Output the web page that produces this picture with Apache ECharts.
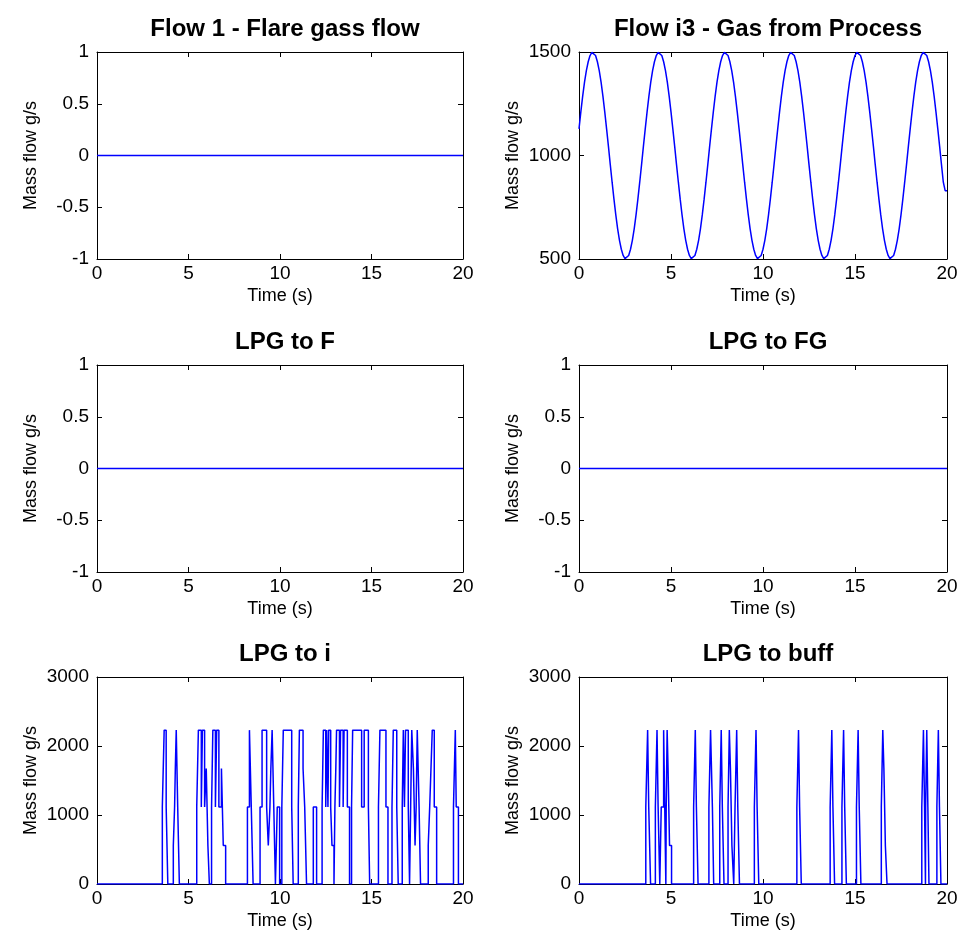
<!DOCTYPE html>
<html>
<head>
<meta charset="utf-8">
<script src="https://cdn.jsdelivr.net/npm/echarts@6/dist/echarts.min.js"></script>
<style>
  html, body { margin: 0; padding: 0; background: #fff; }
  #chart { width: 962px; height: 944px; }
</style>
</head>
<body>
<div id="chart"></div>
<script>
// ---------------- DATA ----------------
const panelTitles = ['Flow 1 - Flare gass flow', 'Flow i3 - Gas from Process', 'LPG to F', 'LPG to FG', 'LPG to i', 'LPG to buff'];
const xTicks = [0, 5, 10, 15, 20];
const yRanges = [[-1, 1, 0.5], [500, 1500, 500], [-1, 1, 0.5], [-1, 1, 0.5], [0, 3000, 1000], [0, 3000, 1000]];
const xLabel = 'Time (s)';
const yLabel = 'Mass flow g/s';

// Flow 1, LPG to F, LPG to FG: constant zero
const flareFlow = [[0, 0], [20, 0]];
const lpgToF = [[0, 0], [20, 0]];
const lpgToFG = [[0, 0], [20, 0]];

// Flow i3 - Gas from Process, sampled every 0.1 s from t = 0 to 20 s
const gasProcessDt = 0.1;
const gasProcess = [
  1129,1211,1287,1354,1410,1453,1483,1498,1498,1483,1453,1410,1354,1287,1211,1129,1044,956,871,789,713,646,590,547,517,502,502,517,547,590,646,713,789,871,956,1044,
  1129,1211,1287,1354,1410,1453,1483,1498,1498,1483,1453,1410,1354,1287,1211,1129,1044,956,871,789,713,646,590,547,517,502,502,517,547,590,646,713,789,871,956,1044,
  1129,1211,1287,1354,1410,1453,1483,1498,1498,1483,1453,1410,1354,1287,1211,1129,1044,956,871,789,713,646,590,547,517,502,502,517,547,590,646,713,789,871,956,1044,
  1129,1211,1287,1354,1410,1453,1483,1498,1498,1483,1453,1410,1354,1287,1211,1129,1044,956,871,789,713,646,590,547,517,502,502,517,547,590,646,713,789,871,956,1044,
  1129,1211,1287,1354,1410,1453,1483,1498,1498,1483,1453,1410,1354,1287,1211,1129,1044,956,871,789,713,646,590,547,517,502,502,517,547,590,646,713,789,871,956,1044,
  1129,1211,1287,1354,1410,1453,1483,1498,1498,1483,1453,1410,1354,1287,1211,1129,1044,956,871,830,830
];

// LPG to i: change points [time s, value g/s] (value holds until next change)
const lpgToI = [
  [0,0],
  [3.57,1115],[3.67,2230],[3.78,1115],[3.87,0],
  [4.17,558],[4.24,1115],[4.28,1673],[4.33,2230],[4.41,1115],[4.50,0],
  [5.45,1115],[5.54,2230],[5.70,1115],[5.76,2230],[5.88,1115],[5.97,1673],[6.06,558],[6.14,0],
  [6.26,1115],[6.33,2230],[6.47,1115],[6.54,2230],[6.66,1115],[6.80,1673],[6.90,558],[7.03,0],
  [8.22,1115],[8.33,2230],[8.43,1115],[8.53,0],
  [8.91,1115],[9.02,2230],[9.27,1115],[9.36,558],[9.45,1115],[9.50,1673],[9.57,2230],[9.66,1115],[9.75,0],
  [9.85,1115],[9.98,0],
  [10.10,1115],[10.18,2230],[10.64,1115],[10.72,0],
  [11.00,1115],[11.06,2230],[11.26,1673],[11.35,1115],[11.45,0],
  [11.82,1115],[12.00,0],
  [12.30,1115],[12.37,2230],[12.50,1115],[12.55,2230],[12.62,1115],[12.66,2230],[12.77,1115],[12.84,558],[12.95,0],
  [13.00,1115],[13.05,1673],[13.09,2230],[13.25,1115],[13.31,2230],[13.45,1115],[13.50,2230],[13.68,1115],[13.80,0],
  [13.91,1115],[13.97,2230],[14.46,1115],[14.60,2230],[14.83,1115],[14.90,0],
  [15.38,1115],[15.46,2230],[15.79,1115],[15.90,0],
  [16.12,1115],[16.19,2230],[16.38,1115],[16.46,0],
  [16.68,1115],[16.74,2230],[16.80,1115],[16.86,2230],[17.01,1115],[17.08,0],
  [17.14,1115],[17.20,2230],[17.29,1673],[17.38,558],[17.44,1115],[17.50,2230],[17.60,1115],[17.68,0],
  [18.10,558],[18.18,1115],[18.25,1673],[18.32,2230],[18.43,1115],[18.56,0],
  [19.48,1115],[19.58,2230],[19.63,1115],[19.75,0],
  [20,0]
];

// LPG to buff: change points [time s, value g/s]
const lpgToBuff = [
  [0,0],
  [3.63,1115],[3.73,2230],[3.79,1115],[3.89,0],
  [4.15,1115],[4.24,2230],[4.30,1115],[4.39,0],
  [4.47,1115],[4.60,2230],[4.66,1115],[4.72,0],
  [4.74,1115],[4.79,2230],[4.84,1673],[4.92,558],[5.03,0],
  [6.23,1115],[6.32,2230],[6.38,1115],[6.47,0],
  [7.06,1115],[7.15,2230],[7.25,1115],[7.32,0],
  [7.65,1115],[7.73,2230],[7.79,1115],[7.88,0],
  [8.10,1115],[8.17,2230],[8.23,1673],[8.31,558],[8.41,0],
  [8.48,1115],[8.57,2230],[8.63,1115],[8.72,0],
  [9.53,1115],[9.62,2230],[9.68,1115],[9.77,0],
  [11.84,1115],[11.93,2230],[11.99,1115],[12.08,0],
  [13.65,1115],[13.74,2230],[13.80,1115],[13.89,0],
  [14.29,1115],[14.38,2230],[14.44,1115],[14.53,0],
  [15.08,1115],[15.17,2230],[15.23,1115],[15.32,0],
  [16.43,1115],[16.51,2230],[16.57,1673],[16.65,558],[16.74,0],
  [18.63,1115],[18.72,2230],[18.78,1115],[18.83,0],
  [18.84,1115],[18.90,2230],[18.96,1115],[19.02,0],
  [19.45,1115],[19.53,2230],[19.59,1115],[19.67,0],
  [20,0]
];

// ---------------- LAYOUT ----------------
const colLeft = [97, 579];
const colWidth = [366, 368];
const rowTop = [52, 365, 677];
const plotHeight = 207;
const FONT = '"Liberation Sans", Arial, sans-serif';
const BLUE = '#0000ff';

// zero-order-hold: turn change points into a stair path (value holds until next change)
function stairs(changes) {
  const out = [];
  for (let i = 0; i < changes.length; i++) {
    const [t, v] = changes[i];
    if (i > 0) out.push([t, changes[i - 1][1]]);
    out.push([t, v]);
  }
  return out;
}

const gasSeries = gasProcess.map((v, i) => [+(i * gasProcessDt).toFixed(2), v]);
const panelData = [flareFlow, gasSeries, lpgToF, lpgToFG, stairs(lpgToI), stairs(lpgToBuff)];

const grids = [], xAxes = [], yAxes = [], series = [], titles = [];
const axisLineStyle = () => ({ show: true, onZero: false, lineStyle: { color: '#000', width: 1 } });
const tickStyle = () => ({ show: true, inside: true, length: 5, lineStyle: { color: '#000', width: 1 } });
const plain = v => String(v);

for (let p = 0; p < 6; p++) {
  const c = p % 2, r = Math.floor(p / 2);
  const [ymin, ymax, yint] = yRanges[p];
  grids.push({ left: colLeft[c], top: rowTop[r], width: colWidth[c], height: plotHeight, show: false, containLabel: false });
  titles.push({
    text: panelTitles[p], left: colLeft[c] + colWidth[c] / 2, top: rowTop[r] - 40, textAlign: 'center',
    textStyle: { fontFamily: FONT, fontSize: 24, fontWeight: 'bold', color: '#000' }
  });
  xAxes.push({
    type: 'value', gridIndex: p, position: 'bottom', min: xTicks[0], max: xTicks[xTicks.length - 1], interval: 5,
    axisLine: axisLineStyle(), axisTick: tickStyle(), splitLine: { show: false },
    axisLabel: { color: '#000', fontFamily: FONT, fontSize: 19, margin: 5, formatter: plain },
    name: xLabel, nameLocation: 'middle', nameGap: 28,
    nameTextStyle: { color: '#000', fontFamily: FONT, fontSize: 18 }
  });
  xAxes.push({
    type: 'value', gridIndex: p, position: 'top', min: xTicks[0], max: xTicks[xTicks.length - 1], interval: 5,
    axisLine: axisLineStyle(), axisTick: tickStyle(), splitLine: { show: false }, axisLabel: { show: false }
  });
  yAxes.push({
    type: 'value', gridIndex: p, position: 'left', min: ymin, max: ymax, interval: yint,
    axisLine: axisLineStyle(), axisTick: tickStyle(), splitLine: { show: false },
    axisLabel: { color: '#000', fontFamily: FONT, fontSize: 19, margin: 8, formatter: plain },
    name: yLabel, nameLocation: 'middle', nameGap: 57, nameRotate: 90,
    nameTextStyle: { color: '#000', fontFamily: FONT, fontSize: 18 }
  });
  yAxes.push({
    type: 'value', gridIndex: p, position: 'right', min: ymin, max: ymax, interval: yint,
    axisLine: axisLineStyle(), axisTick: tickStyle(), splitLine: { show: false }, axisLabel: { show: false }
  });
  series.push({
    type: 'line', xAxisIndex: p * 2, yAxisIndex: p * 2, data: panelData[p],
    showSymbol: false, symbol: 'none', clip: true, z: 3,
    lineStyle: { color: BLUE, width: 1.5 }, itemStyle: { color: BLUE }, silent: true
  });
}

const chart = echarts.init(document.getElementById('chart'), null, { renderer: 'canvas' });
chart.setOption({
  backgroundColor: '#ffffff',
  animation: false,
  title: titles,
  grid: grids,
  xAxis: xAxes,
  yAxis: yAxes,
  series: series
});
</script>
</body>
</html>
